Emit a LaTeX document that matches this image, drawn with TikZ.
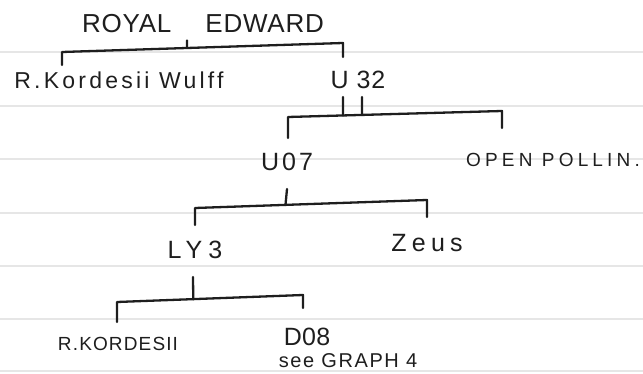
\documentclass[tikz,border=0pt]{standalone}
\usepackage{fontspec}
\setmainfont{Liberation Sans}
\usepackage{tikz}
\usetikzlibrary{calc}
\definecolor{ink}{HTML}{1e1e1e}
\definecolor{rule}{HTML}{e6e6e6}

\begin{document}
\begin{tikzpicture}[x=1pt, y=-1pt, every node/.style={text=ink, inner sep=0pt, anchor=center},
  hand/.style 2 args={font=\fontsize{#1}{#1}\selectfont\addfontfeature{LetterSpace=#2}},
  pen/.style={draw=ink, line width=2.3pt, line join=round, line cap=round},
  ruling/.style={draw=rule, line width=1.2pt}]
\useasboundingbox (0,0) rectangle (643,374);
% ruled paper
\foreach \ry in {52,106,159,213,266,319,371}
  \draw[ruling] (0,\ry) -- (643,\ry);
% names
\node[hand={26}{3}] (royal) at (203,24) {ROYAL\hspace{34pt}EDWARD};
\node[hand={23}{14}] (wulff) at (119,80) {R.Kordesii Wulff};
\node[hand={25}{4}] (u32) at (358,80) {U 32};
\node[hand={25}{12}] (u07) at (287,162) {U07};
\node[hand={19}{22}] (open) at (553,160) {OPEN POLLIN.};
\node[hand={25}{24}] (ly3) at (195,250) {LY3};
\node[hand={25}{21}] (zeus) at (427,243) {Zeus};
\node[hand={19}{6}] (kordesii) at (118,344) {R.KORDESII};
\node[hand={25}{1}] (d08) at (307,337) {D08};
\node[hand={20}{8}] (graph) at (348,361) {see GRAPH 4};
% bracket points
\coordinate (re-l) at (62,65);  \coordinate (re-bl) at (62,52);
\coordinate (re-r) at (343,57); \coordinate (re-br) at (343,43);
\coordinate (u32-l) at (288,138); \coordinate (u32-bl) at (288,117);
\coordinate (u32-r) at (502,128); \coordinate (u32-br) at (502,111);
\coordinate (u07-l) at (195,225); \coordinate (u07-bl) at (195,208);
\coordinate (u07-r) at (427,217); \coordinate (u07-br) at (427,200);
\coordinate (ly3-l) at (117,322); \coordinate (ly3-bl) at (117,302);
\coordinate (ly3-r) at (303,308); \coordinate (ly3-br) at (303,295);
% brackets
\draw[pen] (re-l) -- (re-bl) -- (re-br) -- (re-r);
\draw[pen] ([yshift=-7pt]royal.south -| 187,0) -- ($(re-bl)!0.445!(re-br)$);
\draw[pen] (u32-l) -- (u32-bl) -- (u32-br) -- (u32-r);
\draw[pen] ([yshift=-8pt]u32.south -| 343,0) -- ($(u32-bl)!0.257!(u32-br)$);
\draw[pen] ([yshift=-8pt]u32.south -| 362,0) -- ($(u32-bl)!0.346!(u32-br)$);
\draw[pen] ([yshift=-18pt]u07.south) -- ($(u07-bl)!0.39!(u07-br)$);
\draw[pen] (u07-l) -- (u07-bl) -- (u07-br) -- (u07-r);
\draw[pen] ([yshift=-18pt]ly3.south -| 193,0) -- ($(ly3-bl)!0.41!(ly3-br)$);
\draw[pen] (ly3-l) -- (ly3-bl) -- (ly3-br) -- (ly3-r);
\end{tikzpicture}
\end{document}
